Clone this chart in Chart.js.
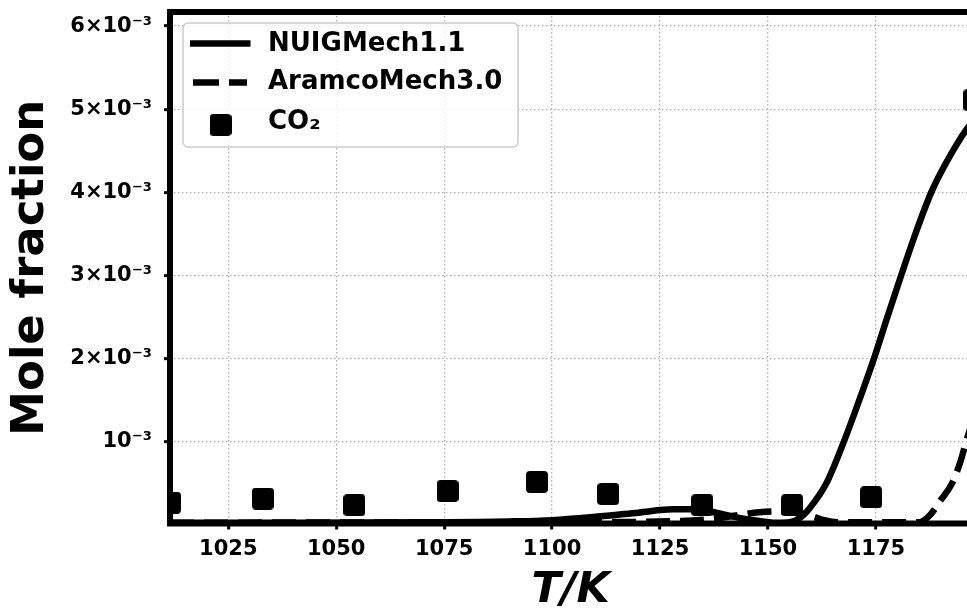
<!DOCTYPE html>
<html>
<head>
<meta charset="utf-8">
<script src="https://cdn.jsdelivr.net/npm/chart.js@4"></script>
<style>
  html, body { margin: 0; padding: 0; overflow: hidden; background: #fff; }
  canvas { display: block; }
</style>
</head>
<body>
<canvas id="grafico" width="990" height="612"></canvas>
<script>
// NUIGMech1.1 (solid)
const nuigT = [1011.5, 1040, 1070, 1090, 1100, 1110, 1120, 1128, 1133, 1138, 1143, 1148, 1152, 1155, 1157.5, 1159.6, 1163.5, 1167.7, 1171.2, 1174.6, 1177.7, 1180.9, 1184.2, 1187.9, 1191.4, 1196.0, 1198]
const nuigX = [3e-5, 3e-5, 3.5e-5, 4.5e-5, 6e-5, 1.0e-4, 1.5e-4, 1.9e-4, 1.9e-4, 1.5e-4, 9e-5, 5e-5, 3e-5, 3.5e-5, 9e-5, 2.0e-4, 5.0e-4, 1.02e-3, 1.51e-3, 2.01e-3, 2.51e-3, 3.01e-3, 3.51e-3, 4.01e-3, 4.37e-3, 4.76e-3, 4.88e-3]

// AramcoMech3.0 (dashed)
const aramcoT = [1011.5, 1100, 1130, 1138, 1143, 1148, 1153, 1157, 1160, 1163, 1166, 1185, 1187.5, 1190, 1192.6, 1194.5, 1196, 1198]
const aramcoX = [3e-5, 3.5e-5, 5e-5, 8e-5, 1.2e-4, 1.55e-4, 1.65e-4, 1.5e-4, 1.1e-4, 6e-5, 3.5e-5, 3.5e-5, 1.2e-4, 3.0e-4, 5.0e-4, 7.5e-4, 1.02e-3, 1.35e-3]

// CO2 measured
const co2T = [1011.5, 1033.0, 1054.2, 1075.8, 1096.5, 1113.0, 1134.8, 1155.6, 1173.9, 1197.8]
const co2X = [2.7e-4, 3.2e-4, 2.4e-4, 4.1e-4, 5.2e-4, 3.75e-4, 2.4e-4, 2.4e-4, 3.35e-4, 5.11e-3]

const xTicks = [1025, 1050, 1075, 1100, 1125, 1150, 1175]
const yTicks = [0.001, 0.002, 0.003, 0.004, 0.005, 0.006]
const yTickLabels = ['10⁻³', '2×10⁻³', '3×10⁻³', '4×10⁻³', '5×10⁻³', '6×10⁻³']

const legendNames = ['NUIGMech1.1', 'AramcoMech3.0', 'CO₂']

Chart.defaults.font.family = '"DejaVu Sans", sans-serif'
Chart.defaults.color = '#000'

// rounded square marker
const quadrado = document.createElement('canvas')
quadrado.width = 22
quadrado.height = 22
const qctx = quadrado.getContext('2d')
qctx.fillStyle = '#000'
qctx.beginPath()
qctx.roundRect(0, 0, 22, 22, 4)
qctx.fill()

const pares = (xs, ys) => xs.map((x, i) => ({x: x, y: ys[i]}))

const molduraELegenda = {
    id: 'molduraELegenda',
    afterDatasetsDraw(chart) {
        const {ctx, chartArea: a} = chart
        ctx.save()
        ctx.strokeStyle = '#000'
        ctx.lineWidth = 6
        ctx.strokeRect(a.left, a.top, a.right - a.left, a.bottom - a.top)
        ctx.restore()
    },
    afterDraw(chart) {
        const ctx = chart.ctx
        ctx.save()
        // legend box
        ctx.beginPath()
        ctx.roundRect(183, 23, 335, 124, 5)
        ctx.fillStyle = 'rgba(255,255,255,0.8)'
        ctx.fill()
        ctx.strokeStyle = '#cccccc'
        ctx.lineWidth = 1.5
        ctx.stroke()

        ctx.strokeStyle = '#000'
        ctx.lineWidth = 6.5
        ctx.beginPath()
        ctx.moveTo(190, 43.5)
        ctx.lineTo(250.5, 43.5)
        ctx.stroke()

        ctx.setLineDash([26, 10])
        ctx.beginPath()
        ctx.moveTo(193, 82.5)
        ctx.lineTo(247, 82.5)
        ctx.stroke()
        ctx.setLineDash([])

        ctx.drawImage(quadrado, 209.5, 114)

        ctx.fillStyle = '#000'
        ctx.font = 'bold 26px "DejaVu Sans"'
        ctx.textBaseline = 'middle'
        const linhasY = [44, 82.5, 122.5]
        legendNames.forEach((nome, i) => ctx.fillText(nome, 268, linhasY[i]))
        ctx.restore()
    }
}

const ctx = document.getElementById('grafico').getContext('2d')
const chart = new Chart(ctx, {
    type: 'scatter',
    data: {
        datasets: [{
            label: 'CO₂',
            data: pares(co2T, co2X),
            pointStyle: quadrado,
            pointRadius: 11,
            backgroundColor: '#000',
            borderColor: '#000',
            order: 0
        }, {
            label: 'NUIGMech1.1',
            data: pares(nuigT, nuigX),
            showLine: true,
            pointRadius: 0,
            borderColor: '#000',
            borderWidth: 6.5,
            cubicInterpolationMode: 'monotone',
            order: 1
        }, {
            label: 'AramcoMech3.0',
            data: pares(aramcoT, aramcoX),
            showLine: true,
            pointRadius: 0,
            borderColor: '#000',
            borderWidth: 6.5,
            borderDash: [24, 10],
            borderCapStyle: 'butt',
            cubicInterpolationMode: 'monotone',
            order: 2
        }]
    },
    options: {
        responsive: false,
        devicePixelRatio: 1,
        animation: false,
        layout: {padding: {top: 8.5, right: 18.7, left: 0, bottom: 0}},
        plugins: {legend: {display: false}, tooltip: {enabled: false}},
        scales: {
            x: {
                type: 'linear',
                min: 1011.5,
                max: 1197.1,
                afterBuildTicks: s => { s.ticks = xTicks.map(v => ({value: v})) },
                afterFit: s => { s.height = 88.5; s.paddingLeft = 0; s.paddingRight = 0 },
                grid: {color: '#b0b0b0', lineWidth: 1.3, tickLength: 6, tickWidth: 3, tickColor: '#000'},
                border: {display: false, dash: [1.5, 2.5]},
                ticks: {font: {size: 21, weight: 'bold'}, padding: 7, maxRotation: 0, callback: v => String(v)},
                title: {display: true, text: 'T/K', font: {size: 43, weight: 'bold', style: 'italic', lineHeight: 1}, padding: {top: 0, bottom: 0}}
            },
            y: {
                type: 'linear',
                min: 0.00002,
                max: 0.00617,
                afterBuildTicks: s => { s.ticks = yTicks.map(v => ({value: v})) },
                afterFit: s => { s.width = 170; s.paddingTop = 0; s.paddingBottom = 0 },
                grid: {color: '#b0b0b0', lineWidth: 1.3, tickLength: 6, tickWidth: 3, tickColor: '#000'},
                border: {display: false, dash: [1.5, 2.5]},
                ticks: {font: {size: 21, weight: 'bold'}, padding: 12, callback: (v, i) => yTickLabels[i]},
                title: {display: true, text: 'Mole fraction', font: {size: 45, weight: 'bold', lineHeight: 1}, padding: {top: 9, bottom: 0}}
            }
        }
    },
    plugins: [molduraELegenda]
})
</script>
</body>
</html>
